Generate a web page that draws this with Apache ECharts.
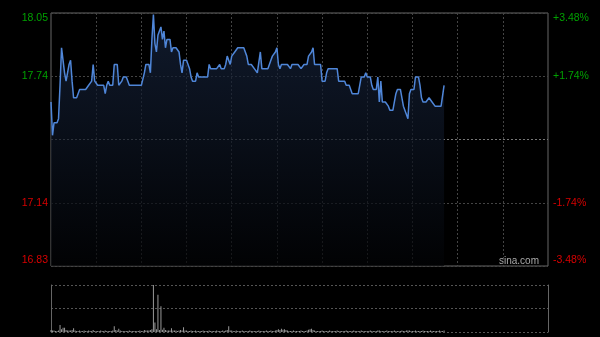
<!DOCTYPE html>
<html>
<head>
<meta charset="utf-8">
<script src="https://cdn.jsdelivr.net/npm/echarts@6/dist/echarts.min.js"></script>
<style>
html,body{margin:0;padding:0;background:#000;}
#c{width:600px;height:337px;}
</style>
</head>
<body>
<div id="c"></div>
<script>
const prevClose = 17.44;
const pctRange = 3.48;
const leftTickLabels = ['16.83', '17.14', '', '17.74', '18.05'];
const rightTickLabels = ['-3.48%', '-1.74%', '', '+1.74%', '+3.48%'];

const prices = [
17.62,17.46,17.52,17.52,17.52,17.54,17.70,17.88,17.82,17.76,
17.72,17.72,17.80,17.82,17.72,17.64,17.64,17.64,17.66,17.68,
17.68,17.68,17.68,17.68,17.68,17.70,17.70,17.72,17.80,17.72,
17.72,17.70,17.70,17.70,17.70,17.70,17.66,17.70,17.72,17.70,
17.70,17.70,17.80,17.80,17.80,17.70,17.70,17.72,17.74,17.74,
17.74,17.74,17.70,17.70,17.70,17.70,17.70,17.70,17.70,17.70,
17.70,17.70,17.76,17.80,17.80,17.80,17.76,17.92,18.04,17.90,
17.86,17.94,17.96,17.98,17.92,17.96,17.88,17.92,17.92,17.92,
17.86,17.88,17.88,17.88,17.88,17.86,17.80,17.76,17.82,17.82,
17.82,17.82,17.78,17.74,17.72,17.72,17.72,17.76,17.74,17.74,
17.74,17.74,17.74,17.74,17.74,17.80,17.78,17.78,17.78,17.78,
17.78,17.78,17.80,17.78,17.78,17.78,17.80,17.84,17.84,17.80,
17.84,17.84,17.86,17.86,17.88,17.88,17.88,17.88,17.88,17.88,
17.84,17.80,17.80,17.80,17.80,17.78,17.78,17.76,17.76,17.86,
17.78,17.78,17.78,17.78,17.78,17.78,17.82,17.84,17.84,17.86,
17.88,17.80,17.78,17.80,17.80,17.80,17.80,17.80,17.80,17.78,
17.80,17.80,17.80,17.80,17.80,17.80,17.78,17.78,17.80,17.80,
17.80,17.84,17.84,17.86,17.88,17.80,17.80,17.80,17.80,17.80,
17.72,17.72,17.72,17.76,17.78,17.78,17.78,17.78,17.78,17.78,
17.78,17.72,17.72,17.72,17.72,17.72,17.70,17.70,17.70,17.70,
17.66,17.66,17.66,17.66,17.66,17.66,17.74,17.74,17.74,17.76,
17.74,17.74,17.74,17.70,17.68,17.68,17.68,17.74,17.62,17.72,
17.62,17.62,17.62,17.62,17.60,17.58,17.58,17.58,17.62,17.66,
17.68,17.68,17.68,17.64,17.60,17.60,17.56,17.54,17.66,17.68,
17.68,17.68,17.74,17.74,17.74,17.70,17.64,17.62,17.62,17.62,
17.62,17.64,17.64,17.62,17.62,17.60,17.60,17.60,17.60,17.60,
17.60,17.70
];

const volumes = [
4,3,3,2,2,3,15,6,9,9,
4,3,3,3,4,8,3,2,2,3,
2,2,3,2,2,3,2,2,4,2,
2,2,2,3,2,2,3,2,2,2,
2,3,12,4,3,7,3,2,2,2,
2,2,3,2,2,2,2,2,2,3,
2,2,4,3,3,3,4,6,100,20,
6,79,4,55,5,9,4,3,3,3,
8,3,3,3,2,3,4,3,10,3,
3,2,2,3,2,2,3,2,2,2,
2,3,2,2,2,3,2,2,2,2,
3,2,2,2,3,2,3,4,12,3,
3,2,2,3,2,2,2,3,2,2,
2,2,3,2,2,2,2,2,3,2,
2,2,2,3,2,2,3,2,2,3,
4,6,4,7,5,6,4,3,2,2,
2,3,2,2,2,2,3,2,2,2,
3,5,6,7,4,3,2,2,2,2,
3,2,2,2,2,3,2,2,2,2,
3,2,2,2,2,2,3,2,2,2,
2,3,2,2,2,2,3,2,2,2,
2,2,3,2,2,2,2,3,3,2,
2,2,2,3,2,2,2,2,3,2,
2,2,2,3,2,2,3,3,3,2,
2,2,3,2,2,2,2,3,2,2,
2,2,3,2,2,2,2,2,3,2,
2,3
];

// minute categories: 09:30-12:00 and 13:00-16:00 (HK session)
const times = [];
function pushRange(h0, m0, n) {
  for (let i = 0; i < n; i++) {
    const t = h0 * 60 + m0 + i;
    const hh = String(Math.floor(t / 60)).padStart(2, '0');
    const mm = String(t % 60).padStart(2, '0');
    times.push(hh + ':' + mm);
  }
}
pushRange(9, 30, 150);
pushRange(13, 0, 181);

const GREEN = '#00a000';
const RED = '#d80000';
const fontFamily = 'Liberation Sans, Arial, sans-serif';

function tickIndex(v) { return Math.round((v + pctRange) / (pctRange / 2)); }
function richFor(i, arr) {
  const s = arr[i];
  if (!s) return '';
  if (i === 4) return '{gt|' + s + '}';
  if (i === 3) return '{g|' + s + '}';
  if (i === 1) return '{r|' + s + '}';
  if (i === 0) return '{rb|' + s + '}';
  return '';
}
const rich = {
  g: {color: GREEN, fontSize: 10.5, fontFamily: fontFamily},
  gt: {color: GREEN, fontSize: 10.5, fontFamily: fontFamily, padding: [10, 0, 0, 0]},
  r: {color: RED, fontSize: 10.5, fontFamily: fontFamily},
  rb: {color: RED, fontSize: 10.5, fontFamily: fontFamily, padding: [0, 0, 12, 0]}
};

const chart = echarts.init(document.getElementById('c'));
chart.setOption({
  backgroundColor: '#000',
  animation: false,
  grid: [
    {left: 51, right: 52, top: 13, height: 253, show: true, borderColor: '#666', borderWidth: 1, backgroundColor: 'transparent'},
    {left: 51, right: 52, top: 285, height: 47, show: false}
  ],
  xAxis: [
    {
      type: 'category', gridIndex: 0, data: times, boundaryGap: false,
      axisLine: {show: false}, axisTick: {show: false}, axisLabel: {show: false},
      splitLine: {
        show: true,
        interval: function (idx) { return idx % 30 === 0 && idx > 0 && idx < 330; },
        lineStyle: {color: '#444', type: [2, 2], width: 1}
      }
    },
    {
      type: 'category', gridIndex: 1, data: times, boundaryGap: false,
      axisLine: {show: false}, axisTick: {show: false}, axisLabel: {show: false},
      splitLine: {show: false}
    }
  ],
  yAxis: [
    {
      type: 'value', gridIndex: 0, position: 'left',
      min: -pctRange, max: pctRange, interval: pctRange / 2,
      axisLine: {show: false}, axisTick: {show: false},
      axisLabel: {
        show: true, margin: 3,
        formatter: function (v) { return richFor(tickIndex(v), leftTickLabels); },
        rich: rich
      },
      splitLine: {show: true, lineStyle: {color: ['#444', '#444', '#777', '#444', '#444'], type: [2, 2], width: 1}}
    },
    {
      type: 'value', gridIndex: 0, position: 'right',
      min: -pctRange, max: pctRange, interval: pctRange / 2,
      axisLine: {show: false}, axisTick: {show: false},
      axisLabel: {
        show: true, margin: 5,
        formatter: function (v) { return richFor(tickIndex(v), rightTickLabels); },
        rich: rich
      },
      splitLine: {show: false}
    },
    {
      type: 'value', gridIndex: 0, show: false,
      min: prevClose * (1 - pctRange / 100), max: prevClose * (1 + pctRange / 100),
      splitLine: {show: false}
    },
    {
      type: 'value', gridIndex: 1, position: 'left', min: 0, max: 100, interval: 50,
      axisLine: {show: true, lineStyle: {color: '#666', width: 1}},
      axisTick: {show: false}, axisLabel: {show: false},
      splitLine: {show: true, lineStyle: {color: '#555', type: [2, 2], width: 1}}
    },
    {
      type: 'value', gridIndex: 1, position: 'right', min: 0, max: 100, interval: 50,
      axisLine: {show: true, lineStyle: {color: '#666', width: 1}},
      axisTick: {show: false}, axisLabel: {show: false},
      splitLine: {show: false}
    }
  ],
  graphic: [
    {
      type: 'text', left: 499, top: 256,
      style: {text: 'sina.com', fill: '#aaa', font: '10px ' + fontFamily}
    }
  ],
  series: [
    {
      type: 'line', xAxisIndex: 0, yAxisIndex: 2, data: prices,
      showSymbol: false, symbol: 'none', smooth: false,
      lineStyle: {color: '#4f86d8', width: 1.5},
      areaStyle: {
        color: new echarts.graphic.LinearGradient(0, 0, 0, 1, [
          {offset: 0, color: '#17253f'},
          {offset: 1, color: '#020305'}
        ])
      },
      z: 3
    },
    {
      type: 'bar', xAxisIndex: 1, yAxisIndex: 3, data: volumes,
      barWidth: 1, itemStyle: {color: '#999'}, z: 3
    }
  ]
});
</script>
</body>
</html>
